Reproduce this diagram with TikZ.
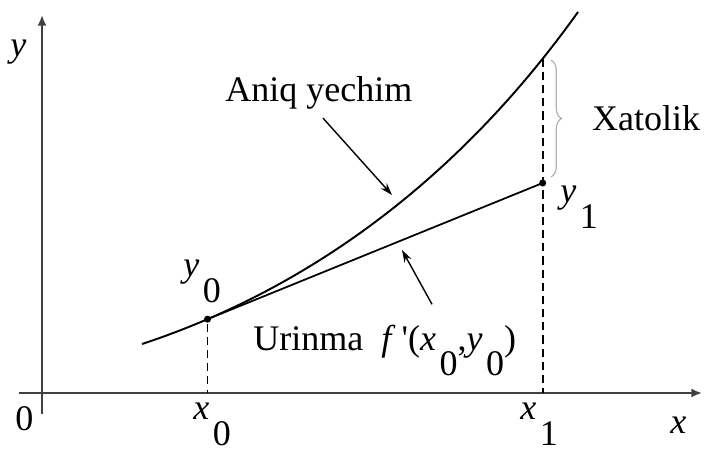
\documentclass[tikz,border=0pt]{standalone}
\usepackage{fontspec}
\setmainfont{Liberation Serif}
\usetikzlibrary{arrows.meta,positioning,calc,decorations.pathreplacing}
\newcommand{\lowsub}[2]{\textit{#1}\kern.1em\raisebox{-.7em}{#2}}

\begin{document}
\begin{tikzpicture}[x=0.02cm,y=0.02cm,>={Latex[length=6pt,width=5pt]},
  axis/.style={black!75,line width=1.1pt,->},
  lab/.style={inner sep=0pt,font=\fontsize{20.5}{24}\selectfont},
  pointer/.style={line width=.8pt,->,>={Stealth[length=7pt,width=4.5pt]}},
  dot/.style={circle,fill,inner sep=0pt,minimum size=4pt}]
\useasboundingbox (-42,-64) rectangle (662,393);
% axes
\coordinate (o) at (0,0);
\draw[axis] (-23,0) -- (660,0);
\draw[axis] (0,-21) -- (0,378);
\node[lab,anchor=base west] (lo) at (-27,-37) {0};
\node[lab,anchor=base west] (lx) at (628,-40) {\textit{x}};
\node[lab,anchor=base west] (ly) at (-32,336) {\textit{y}};
% exact solution and tangent
\draw[line width=1.1pt] (100,49) .. controls (250,98.5) and (406,199) .. (536,381)
  node[dot,pos=.145] (p0) {} coordinate[pos=.911] (c1);
\node[dot] (p1) at (c1 |- 0,210) {};
\draw[line width=1pt] (p0.center) -- (p1.center);
\draw[line width=.6pt,dash pattern=on 4.5pt off 3pt] (p0) -- (p0 |- o);
\draw[line width=1.3pt,dash pattern=on 4.7pt off 2.8pt] (c1) -- (c1 |- o);
\node[lab,anchor=base west] (ax0) at (151,-27) {\lowsub{x}{0}};
\node[lab,anchor=base west] (ax1) at (478,-27) {\lowsub{x}{1}};
\node[lab,anchor=base west] (ay0) at (141,116) {\lowsub{y}{0}};
\node[lab,anchor=base west] (ay1) at (518,190) {\lowsub{y}{1}};
% error brace
\draw[draw=gray!60,line width=.7pt,decorate,decoration={brace,amplitude=6pt}]
  (509,333) -- (509,216) node[lab,midway,right=23pt] (err) {Xatolik};
% labels with pointers
\node[lab,anchor=base west] (aniq) at (183,291) {Aniq yechim};
\coordinate (ta) at (350,198);
\draw[pointer] ($(aniq.south west)+(98,-8)$) -- (ta);
\node[lab,anchor=base west] (urin) at (211,43)
  {Urinma\enspace\textit{f}\,\textquotesingle(\lowsub{x}{0},\lowsub{y}{0})};
\coordinate (tu) at (360,143);
\draw[pointer] ($(urin.north west)+(179,20)$) -- (tu);
\end{tikzpicture}
\end{document}
